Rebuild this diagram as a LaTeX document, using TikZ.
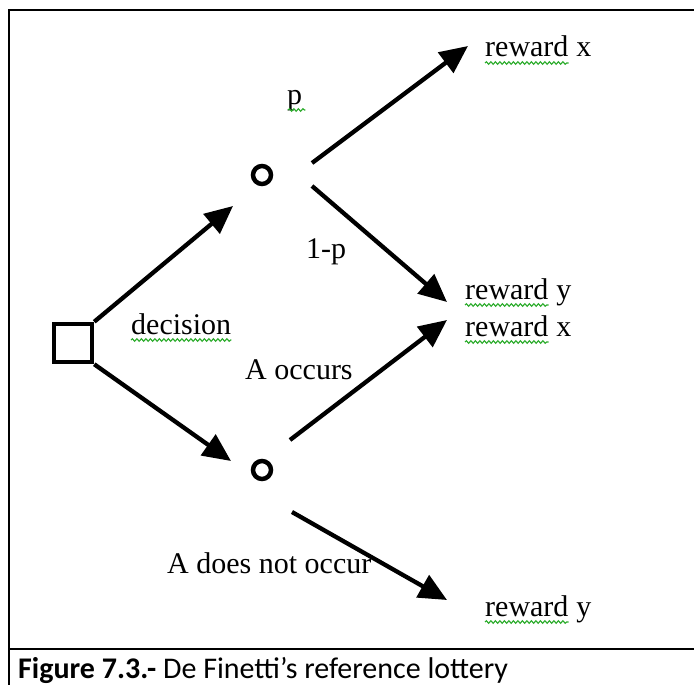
\documentclass[tikz,border=0pt]{standalone}
\usepackage{fontspec}
\setmainfont{Liberation Serif}
\newfontfamily\capfont{Carlito}
\usetikzlibrary{arrows.meta,decorations.pathmorphing}
\definecolor{squiggreen}{RGB}{40,170,40}
\newcommand\lblsize{\fontsize{30}{34}\selectfont}
\begin{document}
\begin{tikzpicture}[x=1pt,y=-1pt,
  lbl/.style={font=\lblsize, inner sep=0pt},
  arr/.style={line width=4.3pt, -{Triangle[length=28pt,width=25pt]}},
  squig/.style={draw=squiggreen, line width=1.1pt, decorate,
    decoration={snake, amplitude=1.3pt, segment length=4.5pt}},
  frame/.style={line width=2.5pt},
  chance/.style={circle, draw, line width=4.5pt, minimum size=18pt, inner sep=0pt}]
\useasboundingbox (0,0) rectangle (694,685);
% frame
\draw[frame] (9,685) -- (9,10) -- (694,10);
\draw[frame] (9,649) -- (694,649);
% nodes
\node[draw, line width=4.5pt, minimum size=38pt, inner sep=0pt] (dec) at (73,343) {};
\node[chance] (c1) at (262,175) {};
\node[chance] (c2) at (262,470) {};
% connector ends
\coordinate (t1) at (233,206);
\coordinate (t2) at (231,461);
\coordinate (s3) at (312,163);
\coordinate (t3) at (468,46);
\coordinate (s4) at (312,186);
\coordinate (t4) at (447,302);
\coordinate (s5) at (290,440);
\coordinate (t5) at (447,320);
\coordinate (s6) at (292,512);
\coordinate (t6) at (447,600);
\draw[arr] (dec.north east) -- (t1);
\draw[arr] (dec.south east) -- (t2);
\draw[arr] (s3) -- (t3);
\draw[arr] (s4) -- (t4);
\draw[arr] (s5) -- (t5);
\draw[arr] (s6) -- (t6);
% labels
\node[lbl, anchor=base west] (rx1) at (485,57) {reward};
\node[lbl, anchor=base west] (rx1v) at (rx1.base east) {\ x};
\node[lbl, anchor=base west] (ry1) at (465,299) {reward};
\node[lbl, anchor=base west] (ry1v) at (ry1.base east) {\ y};
\node[lbl, anchor=base west] (rx2) at (465,336) {reward};
\node[lbl, anchor=base west] (rx2v) at (rx2.base east) {\ x};
\node[lbl, anchor=base west] (ry2) at (485,616) {reward};
\node[lbl, anchor=base west] (ry2v) at (ry2.base east) {\ y};
\node[lbl, anchor=base west] (lp) at (287,104) {p};
\node[lbl, anchor=base west] (l1p) at (306,258) {1-p};
\node[lbl, anchor=base west] (ldec) at (131,334) {decision};
\node[lbl, anchor=base west] (locc) at (245,379) {A occurs};
\node[lbl, anchor=base west] (lnot) at (167,573) {A does not occur};
% spell-check squiggles
\foreach \n in {rx1,ry1,rx2,ry2,ldec}{
  \draw[squig] ([yshift=-6pt]\n.base west) -- ([yshift=-6pt]\n.base east);
}
\draw[squig] ([xshift=1pt,yshift=-6pt]lp.base west) -- ([xshift=3pt,yshift=-6pt]lp.base east);
% caption
\node[anchor=base west, inner sep=0pt, font=\capfont\fontsize{30}{34}\selectfont] (cap) at (18,678)
  {{\bfseries Figure 7.3.-} De Finetti’s reference lottery};
\end{tikzpicture}
\end{document}
